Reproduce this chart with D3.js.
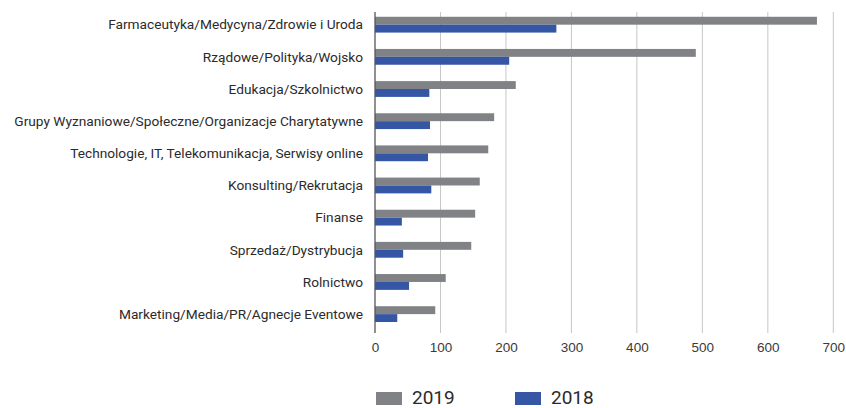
<!DOCTYPE html>
<html>
<head>
<meta charset="utf-8">
<script src="https://cdn.jsdelivr.net/npm/d3@7"></script>
<style>
  body { margin: 0; background: #fff; }
  svg { display: block; font-family: Roboto, "DejaVu Sans", sans-serif; }
  .catlabel { font-size: 13.7px; fill: #2b2b2b; }
  .tick text { font-size: 13.5px; fill: #3a3a3a; }
  .legendtext { font-size: 19px; fill: #2b2b2b; }
</style>
</head>
<body>
<svg id="chart" width="846" height="408"></svg>
<script>
// categories top to bottom
var categories = [
  "Farmaceutyka/Medycyna/Zdrowie i Uroda",
  "Rządowe/Polityka/Wojsko",
  "Edukacja/Szkolnictwo",
  "Grupy Wyznaniowe/Społeczne/Organizacje Charytatywne",
  "Technologie, IT, Telekomunikacja, Serwisy online",
  "Konsulting/Rekrutacja",
  "Finanse",
  "Sprzedaż/Dystrybucja",
  "Rolnictwo",
  "Marketing/Media/PR/Agnecje Eventowe"
];
var values2019 = [675, 490, 215, 182, 173, 160, 153, 147, 108, 92];
var values2018 = [277, 205, 83, 84, 81, 86, 41, 43, 52, 34];
var seriesNames = ["2019", "2018"];
var xTicks = [0, 100, 200, 300, 400, 500, 600, 700];

var colors = { "2019": "#818285", "2018": "#3556a5" };

var svg = d3.select("#chart");

var x = d3.scaleLinear().domain([0, 700]).range([375, 833.3]);
var y = d3.scaleBand().domain(categories).range([8.6, 330.2]);
var ySub = d3.scaleBand().domain(seriesNames).range([0, 15.8]);

// gridlines
svg.append("g")
  .selectAll("line")
  .data(xTicks.slice(1))
  .enter()
  .append("line")
  .attr("x1", function(d) { return x(d); })
  .attr("x2", function(d) { return x(d); })
  .attr("y1", 12)
  .attr("y2", 333)
  .attr("stroke", "#c6c6c6")
  .attr("stroke-width", 1);

// bars
var rows = svg.append("g")
  .selectAll("g.row")
  .data(categories)
  .enter()
  .append("g")
  .attr("class", "row")
  .attr("transform", function(d) {
    return "translate(0," + (y(d) + y.bandwidth() / 2 - 7.9) + ")";
  });

rows.selectAll("rect")
  .data(function(d, i) {
    return [
      { s: "2019", v: values2019[i] },
      { s: "2018", v: values2018[i] }
    ];
  })
  .enter()
  .append("rect")
  .attr("x", x(0))
  .attr("y", function(d) { return ySub(d.s); })
  .attr("width", function(d) { return x(d.v) - x(0); })
  .attr("height", ySub.bandwidth())
  .attr("fill", function(d) { return colors[d.s]; });

// category labels
svg.append("g")
  .selectAll("text")
  .data(categories)
  .enter()
  .append("text")
  .attr("class", "catlabel")
  .attr("x", 363)
  .attr("y", function(d) { return y(d) + y.bandwidth() / 2; })
  .attr("dy", "0.35em")
  .attr("text-anchor", "end")
  .text(function(d) { return d; });

// vertical axis line
svg.append("line")
  .attr("x1", x(0))
  .attr("x2", x(0))
  .attr("y1", 12)
  .attr("y2", 333)
  .attr("stroke", "#555")
  .attr("stroke-width", 1.3);

// x axis
var xAxis = d3.axisBottom(x).tickValues(xTicks).tickSize(0).tickPadding(9);
svg.append("g")
  .attr("transform", "translate(0,333)")
  .call(xAxis)
  .call(function(g) { g.select(".domain").remove(); })
  .selectAll("text")
  .attr("font-family", null)
  .attr("font-size", null);

// legend
var legendX = [376, 515];
var legend = svg.append("g")
  .selectAll("g.legenditem")
  .data(seriesNames)
  .enter()
  .append("g")
  .attr("class", "legenditem")
  .attr("transform", function(d, i) { return "translate(" + legendX[i] + ",392)"; });

legend.append("rect")
  .attr("width", 26)
  .attr("height", 13)
  .attr("fill", function(d) { return colors[d]; });

legend.append("text")
  .attr("class", "legendtext")
  .attr("x", 36)
  .attr("y", 11.5)
  .text(function(d) { return d; });
</script>
</body>
</html>
